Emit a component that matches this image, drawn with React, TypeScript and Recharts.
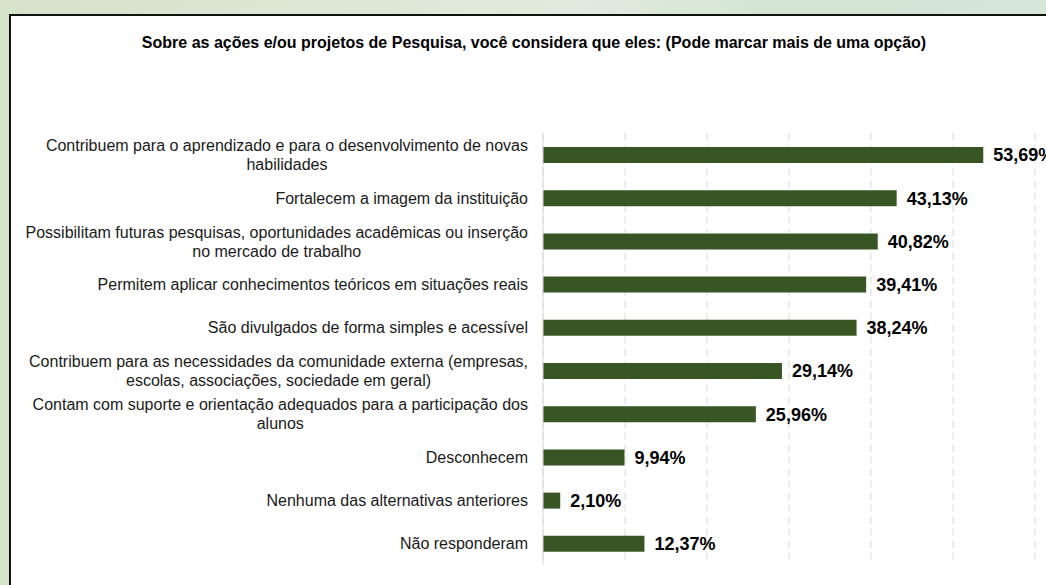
import React from 'react';
import { BarChart, Bar, XAxis, YAxis, CartesianGrid, LabelList } from 'recharts';

const TITLE = 'Sobre as ações e/ou projetos de Pesquisa, você considera que eles: (Pode marcar mais de uma opção)';

const CATEGORIES = [
  'Contribuem para o aprendizado e para o desenvolvimento de novas\nhabilidades',
  'Fortalecem a imagem da instituição',
  'Possibilitam futuras pesquisas, oportunidades acadêmicas ou inserção\nno mercado de trabalho',
  'Permitem aplicar conhecimentos teóricos em situações reais',
  'São divulgados de forma simples e acessível',
  'Contribuem para as necessidades da comunidade externa (empresas,\nescolas, associações, sociedade em geral)',
  'Contam com suporte e orientação adequados para a participação dos\nalunos',
  'Desconhecem',
  'Nenhuma das alternativas anteriores',
  'Não responderam',
];

const VALUES = [53.69, 43.13, 40.82, 39.41, 38.24, 29.14, 25.96, 9.94, 2.1, 12.37];

const X_TICKS = [0, 10, 20, 30, 40, 50, 60];

const data = CATEGORIES.map((name, i) => ({ name, value: VALUES[i] }));

const FONT = '"Liberation Sans", Arial, sans-serif';
const LABEL_SIZE = 16;
const LINE_H = 19;

let canvasCtx: CanvasRenderingContext2D | null = null;
function measure(text: string) {
  if (!canvasCtx) canvasCtx = document.createElement('canvas').getContext('2d');
  if (!canvasCtx) return text.length * 8;
  canvasCtx.font = `${LABEL_SIZE}px ${FONT}`;
  return canvasCtx.measureText(text).width;
}

function CategoryTick({ x, y, payload }: { x?: number; y?: number; payload?: { value: string } }) {
  const lines = String(payload?.value ?? '').split('\n');
  const block = Math.max(...lines.map(measure));
  const cx = (x ?? 0) - block / 2;
  const top = (y ?? 0) - ((lines.length - 1) * LINE_H) / 2;
  return (
    <text textAnchor="middle" fontSize={LABEL_SIZE} fontFamily={FONT} fill="#1a1a1a" dominantBaseline="central">
      {lines.map((l, i) => (
        <tspan key={i} x={cx} y={top + i * LINE_H}>{l}</tspan>
      ))}
    </text>
  );
}

const fmt = (v: unknown) => `${Number(v).toFixed(2).replace('.', ',')}%`;

export default function App() {
  return (
    <div
      style={{
        position: 'fixed',
        left: 0,
        top: 0,
        width: 1046,
        height: 585,
        overflow: 'hidden',
        background: 'linear-gradient(90deg, #d6e3cb 0%, #dbe8d6 35%, #e0ebdd 55%, #d4e5d3 75%, #d6e6d8 100%)',
      }}
    >
      <div
        style={{
          position: 'absolute',
          left: 9,
          top: 14,
          width: 1100,
          height: 620,
          background: '#fff',
          border: '2px solid #111',
        }}
      />
      <div
        style={{
          position: 'absolute',
          left: 0,
          top: 34,
          width: 1068,
          textAlign: 'center',
          fontFamily: FONT,
          fontWeight: 'bold',
          fontSize: 16,
          color: '#000',
        }}
      >
        {TITLE}
      </div>
      <div style={{ position: 'absolute', left: 0, top: 0 }}>
        <BarChart
          width={1046}
          height={585}
          data={data}
          layout="vertical"
          margin={{ top: 133, right: 11, bottom: 20, left: 0 }}
          barCategoryGap={0}
        >
          <CartesianGrid horizontal={false} stroke="#d9d9d9" strokeDasharray="7 5" />
          <XAxis
            type="number"
            domain={[0, 60]}
            ticks={X_TICKS}
            tick={{ fill: 'transparent', fontSize: 1 }}
            axisLine={false}
            tickLine={false}
            height={0}
          />
          <YAxis
            type="category"
            dataKey="name"
            width={543}
            tickSize={0}
            tickMargin={15}
            tickLine={false}
            axisLine={{ stroke: '#d9d9d9' }}
            tick={<CategoryTick />}
            interval={0}
          />
          <Bar dataKey="value" fill="#375623" barSize={16} isAnimationActive={false}>
            <LabelList
              dataKey="value"
              position="right"
              offset={10}
              formatter={fmt}
              fill="#000"
              fontSize={18}
              fontWeight="bold"
              fontFamily={FONT}
            />
          </Bar>
        </BarChart>
      </div>
    </div>
  );
}
